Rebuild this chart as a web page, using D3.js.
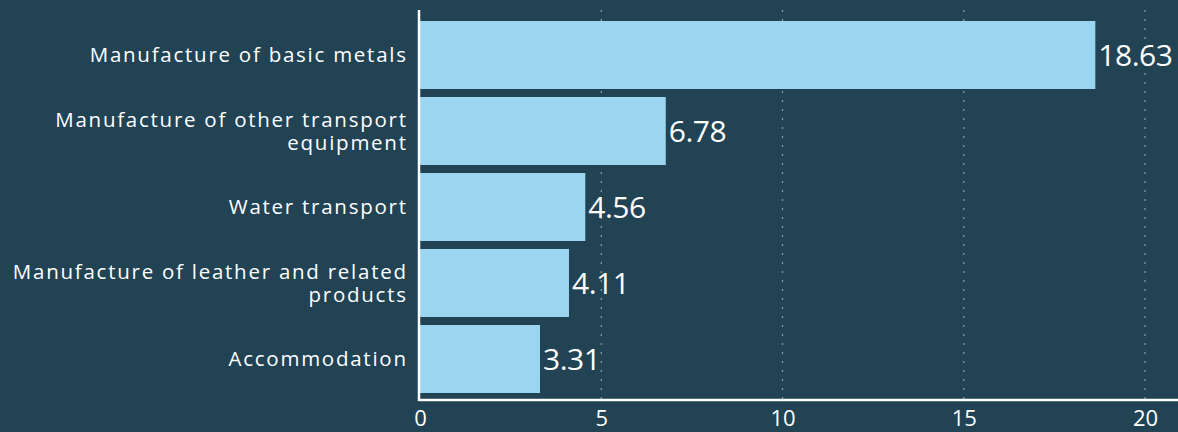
<!DOCTYPE html>
<html><head><meta charset="utf-8">
<script src="https://cdn.jsdelivr.net/npm/d3@7"></script>
<style>html,body{margin:0;padding:0;background:#214354;}svg{display:block;}</style>
</head><body>
<svg id="c" width="1178" height="432"></svg>
<script>
const categories = [
  ["Manufacture of basic metals"],
  ["Manufacture of other transport", "equipment"],
  ["Water transport"],
  ["Manufacture of leather and related", "products"],
  ["Accommodation"]
];
const values = [18.63, 6.78, 4.56, 4.11, 3.31];
const valueLabels = ["18.63", "6.78", "4.56", "4.11", "3.31"];
const xTicks = [0, 5, 10, 15, 20];

const svg = d3.select("#c");
const W = 1178, H = 432;
svg.append("rect").attr("width", W).attr("height", H).attr("fill", "#214354");
const font = "'Open Sans', sans-serif";

const x = d3.scaleLinear().domain([0, 20]).range([420, 1145]);
const y = d3.scaleBand().domain(d3.range(values.length)).range([17, 397])
  .paddingInner(8/76).paddingOuter(4/76);

// gridlines
svg.append("g").selectAll("line").data(xTicks.filter(d => d > 0)).join("line")
  .attr("x1", d => x(d)).attr("x2", d => x(d)).attr("y1", 10).attr("y2", 400)
  .attr("stroke", "#8a9ea8").attr("stroke-width", 1.2).attr("stroke-dasharray", "2,7");

// bars
svg.append("g").selectAll("rect").data(values).join("rect")
  .attr("x", x(0)).attr("y", (d, i) => y(i))
  .attr("width", d => x(d) - x(0)).attr("height", y.bandwidth())
  .attr("fill", "#9ad6f0");

// value labels
svg.append("g").selectAll("text").data(values).join("text")
  .attr("x", d => x(d) + 3).attr("y", (d, i) => y(i) + y.bandwidth() / 2)
  .attr("dy", "0.36em").attr("fill", "#fff").attr("font-family", font)
  .attr("font-size", 30).attr("letter-spacing", -0.5).text((d, i) => valueLabels[i]);

// category labels
const cg = svg.append("g");
const texts = [];
categories.forEach((lines, i) => {
  const cy = y(i) + y.bandwidth() / 2;
  const lh = 22.7;
  const t = cg.append("text").attr("text-anchor", "end").attr("fill", "#fff")
    .attr("font-family", font).attr("font-size", 20.5);
  lines.forEach((l, j) => {
    t.append("tspan").attr("x", 406)
      .attr("y", cy + (j - (lines.length - 1) / 2) * lh).attr("dy", "0.36em").text(l);
  });
  texts.push(t);
});
// widen letter spacing slightly to match reference's wide face
const w0 = texts[0].node().getComputedTextLength();
const n0 = categories[0][0].length;
const ls = Math.max(0, (318 - w0) / n0);
cg.selectAll("text").attr("letter-spacing", ls);
cg.selectAll("tspan").attr("x", 406 + ls);

// axes
const xAxis = d3.axisBottom(x).tickValues(xTicks).tickSize(0).tickPadding(12);
const gx = svg.append("g").attr("transform", "translate(0,400)").call(xAxis);
gx.select(".domain").attr("stroke", "#fff").attr("stroke-width", 2.5)
  .attr("d", `M${x(0) - 1},0H${W}`);
gx.selectAll("text").attr("fill", "#fff").attr("font-family", font).attr("font-size", 22)
  .attr("dy", "0.62em");

svg.append("line").attr("x1", 419).attr("x2", 419).attr("y1", 10).attr("y2", 401)
  .attr("stroke", "#fff").attr("stroke-width", 2.5);
</script>
</body></html>
